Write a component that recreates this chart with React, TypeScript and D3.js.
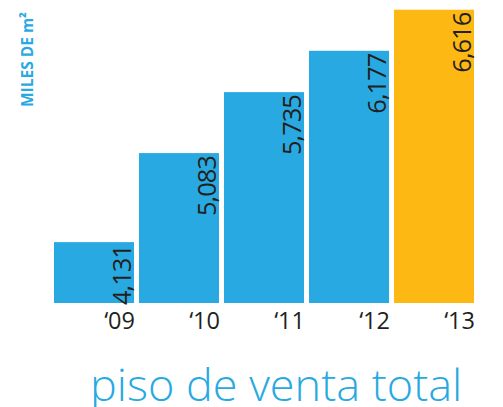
import React from 'react';
import * as d3 from 'd3';

const years = ['09', '10', '11', '12', '13'];
const values = [4131, 5083, 5735, 6177, 6616];
const highlightYear = '13';
const unitLabel = 'MILES DE m²';
const title = 'piso de venta total';

const W = 503;
const H = 407;
const BLUE = '#29a9e1';
const ORANGE = '#fdb813';
const INK = '#231f20';
const FONT = '"Open Sans", "Noto Sans", sans-serif';

const App = () => {
  // Bars start from an offset baseline, not zero
  const x = d3.scaleBand().domain(years).range([54, 474]).paddingInner(5 / 85).paddingOuter(0);
  const y = d3.scaleLinear().domain([3480, 6720]).range([303, 0]);
  const fmt = d3.format(',');

  return (
    <svg width={W} height={H} style={{ position: 'absolute', left: 0, top: 0, background: '#fff' }}>
      <text
        transform="translate(32.5,107) rotate(-90)"
        fontFamily={FONT}
        fontWeight={700}
        fontSize={16}
        textLength={95}
        lengthAdjust="spacingAndGlyphs"
        fill={BLUE}
      >
        {unitLabel}
      </text>

      {years.map((yr, i) => {
        const x0 = x(yr) as number;
        const top = y(values[i]);
        return (
          <g key={yr}>
            <rect
              x={x0}
              y={top}
              width={x.bandwidth()}
              height={303 - top}
              fill={yr === highlightYear ? ORANGE : BLUE}
            />
            <text
              transform={`translate(${x0 + x.bandwidth() - 3},${top + 3}) rotate(-90)`}
              textAnchor="end"
              fontFamily={FONT}
              fontSize={25.5}
              letterSpacing={-1}
              fill={INK}
            >
              {fmt(values[i])}
            </text>
            <text
              x={x0 + x.bandwidth() + 1}
              y={329}
              textAnchor="end"
              fontFamily={FONT}
              fontSize={23.5}
              fill={INK}
            >
              {'\u2018' + yr}
            </text>
          </g>
        );
      })}

      <text x={90} y={401} fontFamily={FONT} fontWeight={300} fontSize={45} fill={BLUE}>
        {title}
      </text>
    </svg>
  );
};

export default App;
